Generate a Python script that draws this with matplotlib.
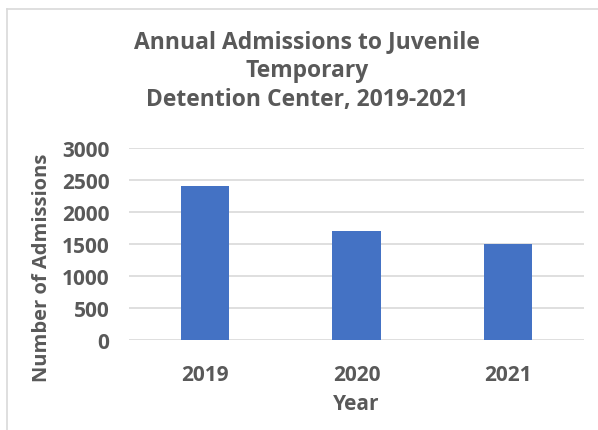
import matplotlib
matplotlib.use("Agg")
import matplotlib.pyplot as plt
from matplotlib.lines import Line2D

years = ["2019", "2020", "2021"]
admissions = [2400, 1700, 1500]
y_ticks = [0, 500, 1000, 1500, 2000, 2500, 3000]

plt.rcParams['font.family'] = ['Open Sans', 'DejaVu Sans']
text_color = "#595959"
bar_color = "#4472C4"
grid_color = "#D9D9D9"

fig = plt.figure(figsize=(5.98, 4.31), dpi=100)
ax = fig.add_axes([129 / 598, 1 - 341 / 431, (584 - 129) / 598, (341 - 149) / 431])

x = list(range(len(years)))
ax.bar(x, admissions, width=0.32, color=bar_color, zorder=3)

ax.set_xlim(-0.5, len(years) - 0.5)
ax.set_ylim(0, 3000)
ax.set_yticks(y_ticks)
ax.set_xticks(x)
ax.set_xticklabels(years)
ax.yaxis.grid(True, color=grid_color, linewidth=1.2, zorder=0)
ax.xaxis.grid(False)
for s in ax.spines.values():
    s.set_visible(False)
ax.tick_params(axis="both", length=0, labelsize=15, labelcolor=text_color)
ax.tick_params(axis="x", pad=17)
ax.tick_params(axis="y", pad=14)
for lbl in ax.get_xticklabels() + ax.get_yticklabels():
    lbl.set_fontweight("bold")

ax.set_xlabel("Year", fontsize=15, fontweight="bold", color=text_color, labelpad=6)
ax.set_ylabel("Number of Admissions", fontsize=14.5, fontweight="bold", color=text_color)
ax.yaxis.set_label_coords(-0.169, 0.38)

fig.text(0.5 + 8 / 598, 1 - 71 / 431,
         "Annual Admissions to Juvenile\nTemporary\nDetention Center, 2019-2021",
         ha="center", va="center", fontsize=16.5, fontweight="bold", color=text_color,
         linespacing=1.3)

# chart area frame (top and left edges)
fig.add_artist(Line2D([7 / 598, 1], [1 - 10 / 431, 1 - 10 / 431], color="#D9D9D9", linewidth=1.2,
                      transform=fig.transFigure))
fig.add_artist(Line2D([7 / 598, 7 / 598], [0, 1 - 10 / 431], color="#D9D9D9", linewidth=1.2,
                      transform=fig.transFigure))

fig.savefig("out.png", dpi=100, facecolor="white")
